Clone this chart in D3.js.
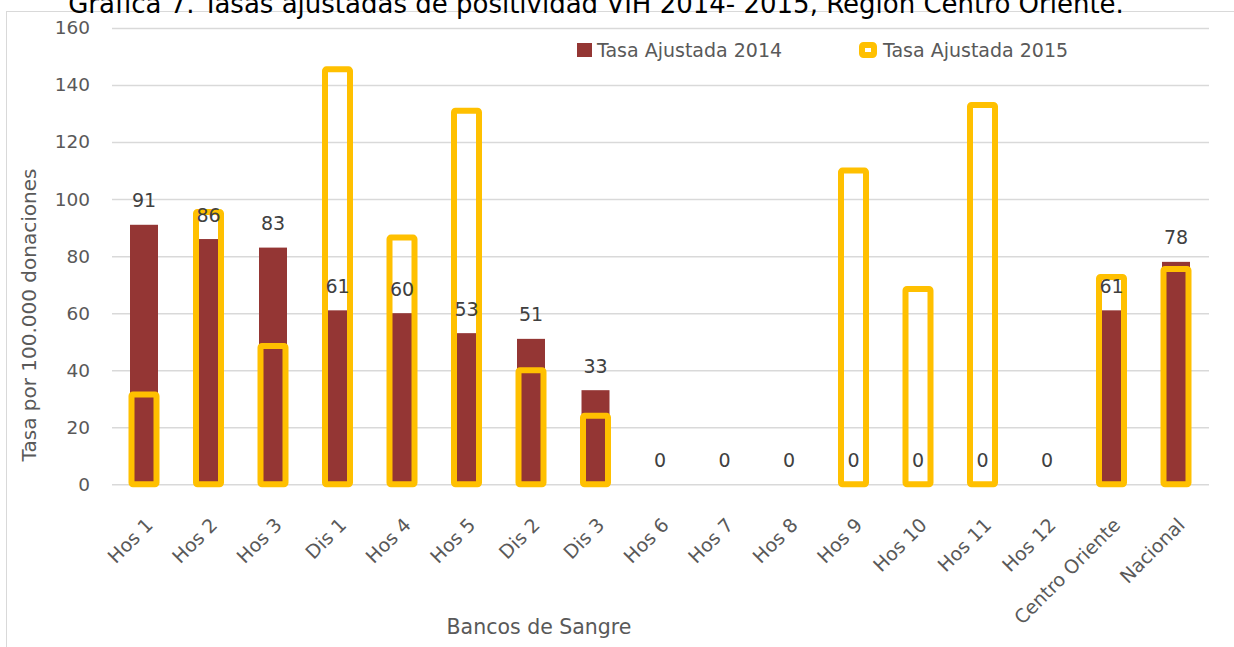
<!DOCTYPE html>
<html lang="es">
<head>
  <meta charset="utf-8">
  <title>Tasas ajustadas VIH</title>
  <script src="https://cdnjs.cloudflare.com/ajax/libs/d3/7.8.5/d3.min.js"></script>
  <style>
    body { margin: 0; background: #fff; }
    svg { display: block; font-family: "DejaVu Sans", sans-serif; }
  </style>
</head>
<body>
  <script>
    // data
    var bancos = ["Hos 1", "Hos 2", "Hos 3", "Dis 1", "Hos 4", "Hos 5", "Dis 2", "Dis 3",
                  "Hos 6", "Hos 7", "Hos 8", "Hos 9", "Hos 10", "Hos 11", "Hos 12",
                  "Centro Oriente", "Nacional"];
    var tasa2014 = [91, 86, 83, 61, 60, 53, 51, 33, 0, 0, 0, 0, 0, 0, 0, 61, 78];
    var tasa2015 = [31.5, 95.5, 48.5, 145.5, 86.5, 131, 40, 24, 0, 0, 0, 110, 68.5, 133, 0, 72.7, 75.5];
    var yTicks = [0, 20, 40, 60, 80, 100, 120, 140, 160];
    var serieNames = ["Tasa Ajustada 2014", "Tasa Ajustada 2015"];

    var width = 1234, height = 647;
    var dark = "#943634", gold = "#FFC000";

    var svg = d3.select("body").append("svg")
      .attr("width", width)
      .attr("height", height);

    // chart area border
    svg.append("rect")
      .attr("x", 6.5).attr("y", 11.5)
      .attr("width", 1240).attr("height", 660)
      .attr("fill", "none")
      .attr("stroke", "#d9d9d9");

    // title, its top is cut off by the page edge like in the source
    svg.append("text")
      .attr("x", 596).attr("y", 13)
      .attr("text-anchor", "middle")
      .attr("font-size", 26)
      .attr("fill", "#000")
      .text("Gráfica 7. Tasas ajustadas de positividad VIH 2014- 2015, Región Centro Oriente.");

    var x = d3.scaleBand()
      .domain(bancos)
      .range([111.75, 1208.25])
      .paddingInner(0.566)
      .paddingOuter(0.283);

    var y = d3.scaleLinear()
      .domain([0, 160])
      .range([484.3, 28]);

    // gridlines + y labels
    var yAxis = d3.axisLeft(y)
      .tickValues(yTicks)
      .tickSize(-(1209 - 112))
      .tickPadding(22);

    var gy = svg.append("g")
      .attr("transform", "translate(112,0)")
      .call(yAxis);
    gy.select(".domain").remove();
    gy.selectAll(".tick line").attr("stroke", "#d9d9d9").attr("stroke-width", 1.5);
    gy.selectAll(".tick text")
      .attr("font-size", 18.5)
      .attr("fill", "#595959")
      .attr("font-family", "DejaVu Sans, sans-serif");

    // x labels
    var xAxis = d3.axisBottom(x).tickSize(0).tickPadding(0);
    var gx = svg.append("g")
      .attr("transform", "translate(0,484.3)")
      .call(xAxis);
    gx.select(".domain").remove();
    gx.selectAll(".tick text")
      .attr("font-size", 19)
      .attr("fill", "#595959")
      .attr("font-family", "DejaVu Sans, sans-serif")
      .attr("text-anchor", "end")
      .attr("dy", "0")
      .attr("y", 0)
      .attr("transform", "translate(10,42) rotate(-45)");

    var bw = x.bandwidth();

    // 2014 filled bars
    svg.append("g").selectAll("rect")
      .data(tasa2014)
      .join("rect")
      .attr("x", function (d, i) { return x(bancos[i]); })
      .attr("y", function (d) { return y(d); })
      .attr("width", bw)
      .attr("height", function (d) { return y(0) - y(d); })
      .attr("fill", dark);

    // 2015 outlined bars
    svg.append("g").selectAll("rect")
      .data(tasa2015.map(function (v, i) { return { v: v, b: bancos[i] }; })
        .filter(function (d) { return d.v > 0; }))
      .join("rect")
      .attr("x", function (d) { return x(d.b) + bw / 2 - 12.5; })
      .attr("y", function (d) { return y(d.v); })
      .attr("width", 25)
      .attr("height", function (d) { return y(0) - y(d.v); })
      .attr("rx", 1.5)
      .attr("fill", "none")
      .attr("stroke", gold)
      .attr("stroke-width", 6);

    // data labels for 2014
    svg.append("g").selectAll("text")
      .data(tasa2014)
      .join("text")
      .attr("x", function (d, i) { return x(bancos[i]) + bw / 2; })
      .attr("y", function (d) { return y(d) - 17.5; })
      .attr("text-anchor", "middle")
      .attr("font-size", 19)
      .attr("fill", "#404040")
      .text(function (d) { return d3.format(".0f")(d); });

    // axis titles
    svg.append("text")
      .attr("transform", "translate(36,315) rotate(-90)")
      .attr("text-anchor", "middle")
      .attr("font-size", 20)
      .attr("fill", "#595959")
      .text("Tasa por 100.000 donaciones");

    svg.append("text")
      .attr("x", 539).attr("y", 634)
      .attr("text-anchor", "middle")
      .attr("font-size", 20.5)
      .attr("fill", "#595959")
      .text("Bancos de Sangre");

    // legend
    var lg = svg.append("g");
    lg.append("rect")
      .attr("x", 577).attr("y", 43)
      .attr("width", 15).attr("height", 14)
      .attr("fill", dark);
    lg.append("text")
      .attr("x", 597).attr("y", 57)
      .attr("font-size", 19).attr("fill", "#595959")
      .text(serieNames[0]);
    lg.append("rect")
      .attr("x", 862).attr("y", 45)
      .attr("width", 12).attr("height", 10)
      .attr("rx", 1.5)
      .attr("fill", "#fff")
      .attr("stroke", gold).attr("stroke-width", 6);
    lg.append("text")
      .attr("x", 883).attr("y", 57)
      .attr("font-size", 19).attr("fill", "#595959")
      .text(serieNames[1]);
  </script>
</body>
</html>
